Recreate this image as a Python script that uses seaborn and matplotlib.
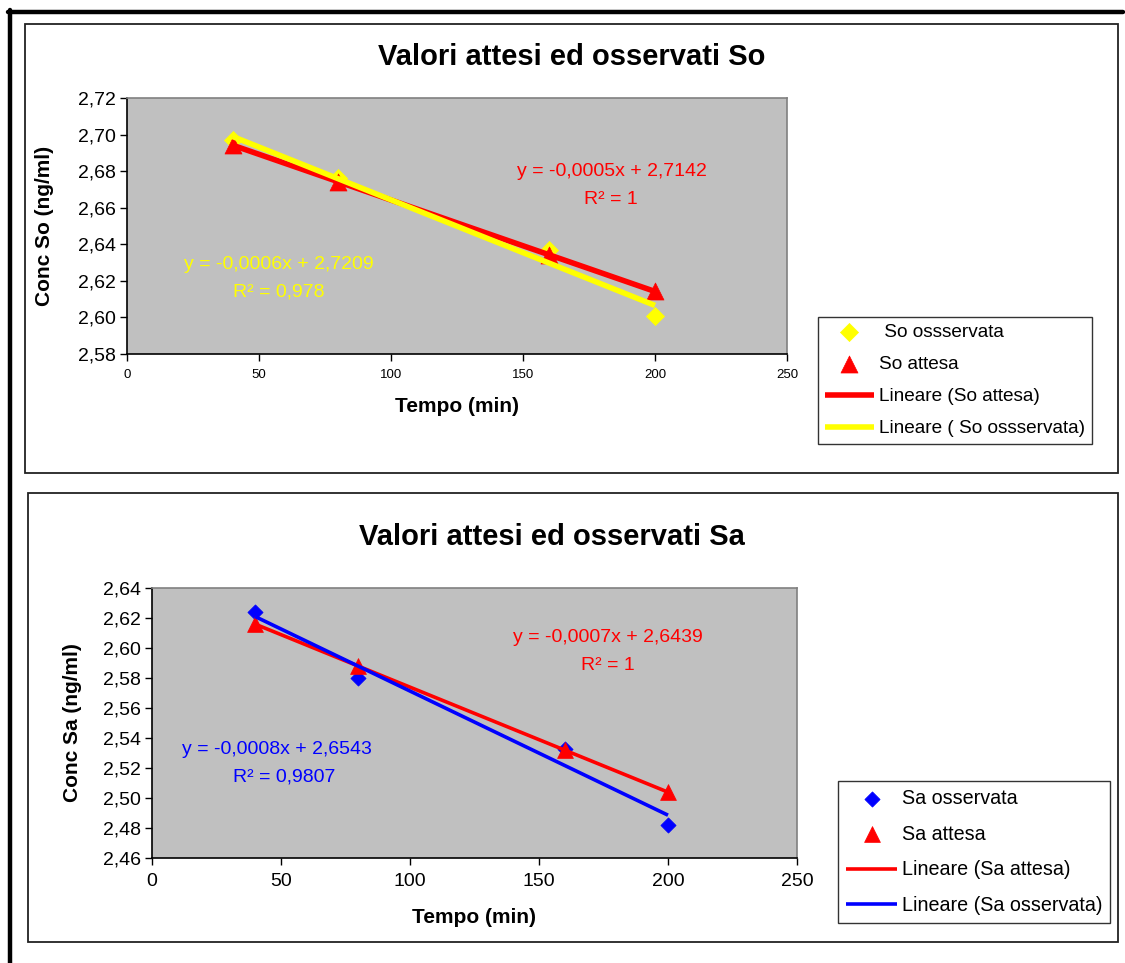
import numpy as np
import pandas as pd
import matplotlib
matplotlib.use("Agg")
import matplotlib.pyplot as plt
from matplotlib.patches import Rectangle
from matplotlib.lines import Line2D
from matplotlib.ticker import FixedLocator, FuncFormatter
import seaborn as sns

# --- data -------------------------------------------------------------
tempo = [40, 80, 160, 200]

so_osservata = [2.697, 2.676, 2.637, 2.601]
so_attesa = [2.6942, 2.6742, 2.6342, 2.6142]

sa_osservata = [2.624, 2.580, 2.533, 2.482]
sa_attesa = [2.6159, 2.5879, 2.5319, 2.5039]

x_ticks = [0, 50, 100, 150, 200, 250]
so_y_ticks = [2.58, 2.60, 2.62, 2.64, 2.66, 2.68, 2.70, 2.72]
sa_y_ticks = [2.46, 2.48, 2.50, 2.52, 2.54, 2.56, 2.58, 2.60, 2.62, 2.64]

so_eq_attesa = ["y = -0,0005x + 2,7142", "R\u00b2 = 1"]
so_eq_osservata = ["y = -0,0006x + 2,7209", "R\u00b2 = 0,978"]
sa_eq_attesa = ["y = -0,0007x + 2,6439", "R\u00b2 = 1"]
sa_eq_osservata = ["y = -0,0008x + 2,6543", "R\u00b2 = 0,9807"]

# --- style ------------------------------------------------------------
sns.set_theme(style="ticks")
plt.rcParams["font.family"] = ["Liberation Sans", "DejaVu Sans"]
plt.rcParams["axes.unicode_minus"] = False
plt.rcParams["text.color"] = "black"
plt.rcParams["axes.labelcolor"] = "black"
plt.rcParams["xtick.color"] = "black"
plt.rcParams["ytick.color"] = "black"

W, H = 1125, 963
fig = plt.figure(figsize=(W / 100, H / 100), dpi=100)
fig.patch.set_facecolor("white")

YELLOW = "#FFFF00"
RED = "#FF0000"
BLUE = "#0000FF"
PLOT_BG = "#C0C0C0"


def fx(px):
    return px / W


def fy(py):
    return 1 - py / H


def comma(v, _pos=None):
    return f"{v:.2f}".replace(".", ",")


def frame_box(x0, y0, x1, y1, lw=1.3, color="#222222"):
    fig.patches.append(Rectangle((fx(x0), fy(y1)), fx(x1) - fx(x0), fy(y0) - fy(y1),
                                 transform=fig.transFigure, fill=False,
                                 edgecolor=color, linewidth=lw, zorder=0))


# page border (top and left) and chart boxes
fig.lines.append(Line2D([fx(8), fx(1123)], [fy(12), fy(12)], transform=fig.transFigure,
                        color="black", linewidth=3.2))
fig.lines.append(Line2D([fx(10), fx(10)], [fy(10), fy(963)], transform=fig.transFigure,
                        color="black", linewidth=3.2))
frame_box(25, 24, 1118, 473)
frame_box(28, 493, 1118, 942)


def style_axes(ax, yticks, xtick_size):
    ax.set_facecolor(PLOT_BG)
    ax.set_xlim(x_ticks[0], x_ticks[-1])
    ax.set_ylim(yticks[0], yticks[-1])
    ax.xaxis.set_major_locator(FixedLocator(x_ticks))
    ax.yaxis.set_major_locator(FixedLocator(yticks))
    ax.yaxis.set_major_formatter(FuncFormatter(comma))
    ax.tick_params(axis="both", direction="out", length=5, width=1, color="black",
                   labelcolor="black")
    ax.tick_params(axis="y", labelsize=14, pad=3)
    ax.tick_params(axis="x", labelsize=xtick_size, pad=6)
    for side in ("top", "right"):
        ax.spines[side].set_visible(True)
        ax.spines[side].set_color("#808080")
        ax.spines[side].set_linewidth(1.2)
    for side in ("left", "bottom"):
        ax.spines[side].set_color("black")
        ax.spines[side].set_linewidth(1.2)
    ax.set_xlabel("")
    ax.set_ylabel("")


def draw_panel(ax, obs, att, obs_color, labels, obs_ms, tri_ms, lw):
    obs_label, att_label, lin_att, lin_obs = labels
    df = pd.DataFrame({"tempo": tempo, "oss": obs, "att": att})
    sns.scatterplot(data=df, x="tempo", y="oss", ax=ax, marker="D", s=obs_ms,
                    color=obs_color, edgecolor=obs_color, linewidth=0.5, zorder=3)
    sns.scatterplot(data=df, x="tempo", y="att", ax=ax, marker="^", s=tri_ms,
                    color=RED, edgecolor=RED, linewidth=0.5, zorder=3)
    sns.regplot(data=df, x="tempo", y="att", ax=ax, scatter=False, ci=None,
                truncate=True, color=RED,
                line_kws={"linewidth": lw, "zorder": 4, "solid_capstyle": "butt"})
    sns.regplot(data=df, x="tempo", y="oss", ax=ax, scatter=False, ci=None,
                truncate=True, color=obs_color,
                line_kws={"linewidth": lw, "zorder": 5, "solid_capstyle": "butt"})
    pts_obs, pts_att = ax.collections[0], ax.collections[1]
    line_att, line_obs = ax.lines[-2], ax.lines[-1]
    return [pts_obs, pts_att, line_att, line_obs], [obs_label, att_label, lin_att, lin_obs]


def add_legend(ax, handles, labels, x0, y0, spacing, pad, size):
    leg = ax.legend(handles, labels, loc="upper left", bbox_to_anchor=(fx(x0), fy(y0)),
                    bbox_transform=fig.transFigure, borderaxespad=0, frameon=True,
                    fancybox=False, edgecolor="#333333", framealpha=1, fontsize=size,
                    handlelength=2.6, handletextpad=0.25, labelspacing=spacing,
                    borderpad=pad)
    leg.get_frame().set_linewidth(1.0)


# --- top chart: So ----------------------------------------------------
ax1 = fig.add_axes([fx(127), fy(354), fx(787) - fx(127), fy(98) - fy(354)])
h1, l1 = draw_panel(ax1, so_osservata, so_attesa, YELLOW,
                    [" So ossservata", "So attesa", "Lineare (So attesa)",
                     "Lineare ( So ossservata)"], 85, 150, 4.0)
style_axes(ax1, so_y_ticks, 9.5)
add_legend(ax1, h1, l1, 818, 317, 0.78, 0.35, 13.7)

fig.text(fx(572), fy(57), "Valori attesi ed osservati So", ha="center", va="center",
         fontsize=21, fontweight="bold")
fig.text(fx(457), fy(407), "Tempo (min)", ha="center", va="center",
         fontsize=15, fontweight="bold")
fig.text(fx(45), fy(226), "Conc So (ng/ml)", ha="center", va="center",
         fontsize=15, fontweight="bold", rotation=90)
fig.text(fx(612), fy(171), so_eq_attesa[0], ha="center", va="center", fontsize=14, color=RED)
fig.text(fx(611), fy(199), so_eq_attesa[1], ha="center", va="center", fontsize=14, color=RED)
fig.text(fx(279), fy(264), so_eq_osservata[0], ha="center", va="center", fontsize=14, color=YELLOW)
fig.text(fx(279), fy(292), so_eq_osservata[1], ha="center", va="center", fontsize=14, color=YELLOW)

# --- bottom chart: Sa -------------------------------------------------
ax2 = fig.add_axes([fx(152), fy(858), fx(797) - fx(152), fy(588) - fy(858)])
h2, l2 = draw_panel(ax2, sa_osservata, sa_attesa, BLUE,
                    ["Sa osservata", "Sa attesa", "Lineare (Sa attesa)",
                     "Lineare (Sa osservata)"], 60, 130, 2.6)
style_axes(ax2, sa_y_ticks, 14)
add_legend(ax2, h2, l2, 838, 781, 0.85, 0.4, 14.2)

fig.text(fx(552), fy(537), "Valori attesi ed osservati Sa", ha="center", va="center",
         fontsize=21, fontweight="bold")
fig.text(fx(474), fy(917), "Tempo (min)", ha="center", va="center",
         fontsize=15, fontweight="bold")
fig.text(fx(72), fy(723), "Conc Sa (ng/ml)", ha="center", va="center",
         fontsize=15, fontweight="bold", rotation=90)
fig.text(fx(608), fy(637), sa_eq_attesa[0], ha="center", va="center", fontsize=14, color=RED)
fig.text(fx(608), fy(665), sa_eq_attesa[1], ha="center", va="center", fontsize=14, color=RED)
fig.text(fx(277), fy(750), sa_eq_osservata[0], ha="center", va="center", fontsize=14, color=BLUE)
fig.text(fx(284), fy(777), sa_eq_osservata[1], ha="center", va="center", fontsize=14, color=BLUE)

fig.savefig("out.png", dpi=100, facecolor="white")
